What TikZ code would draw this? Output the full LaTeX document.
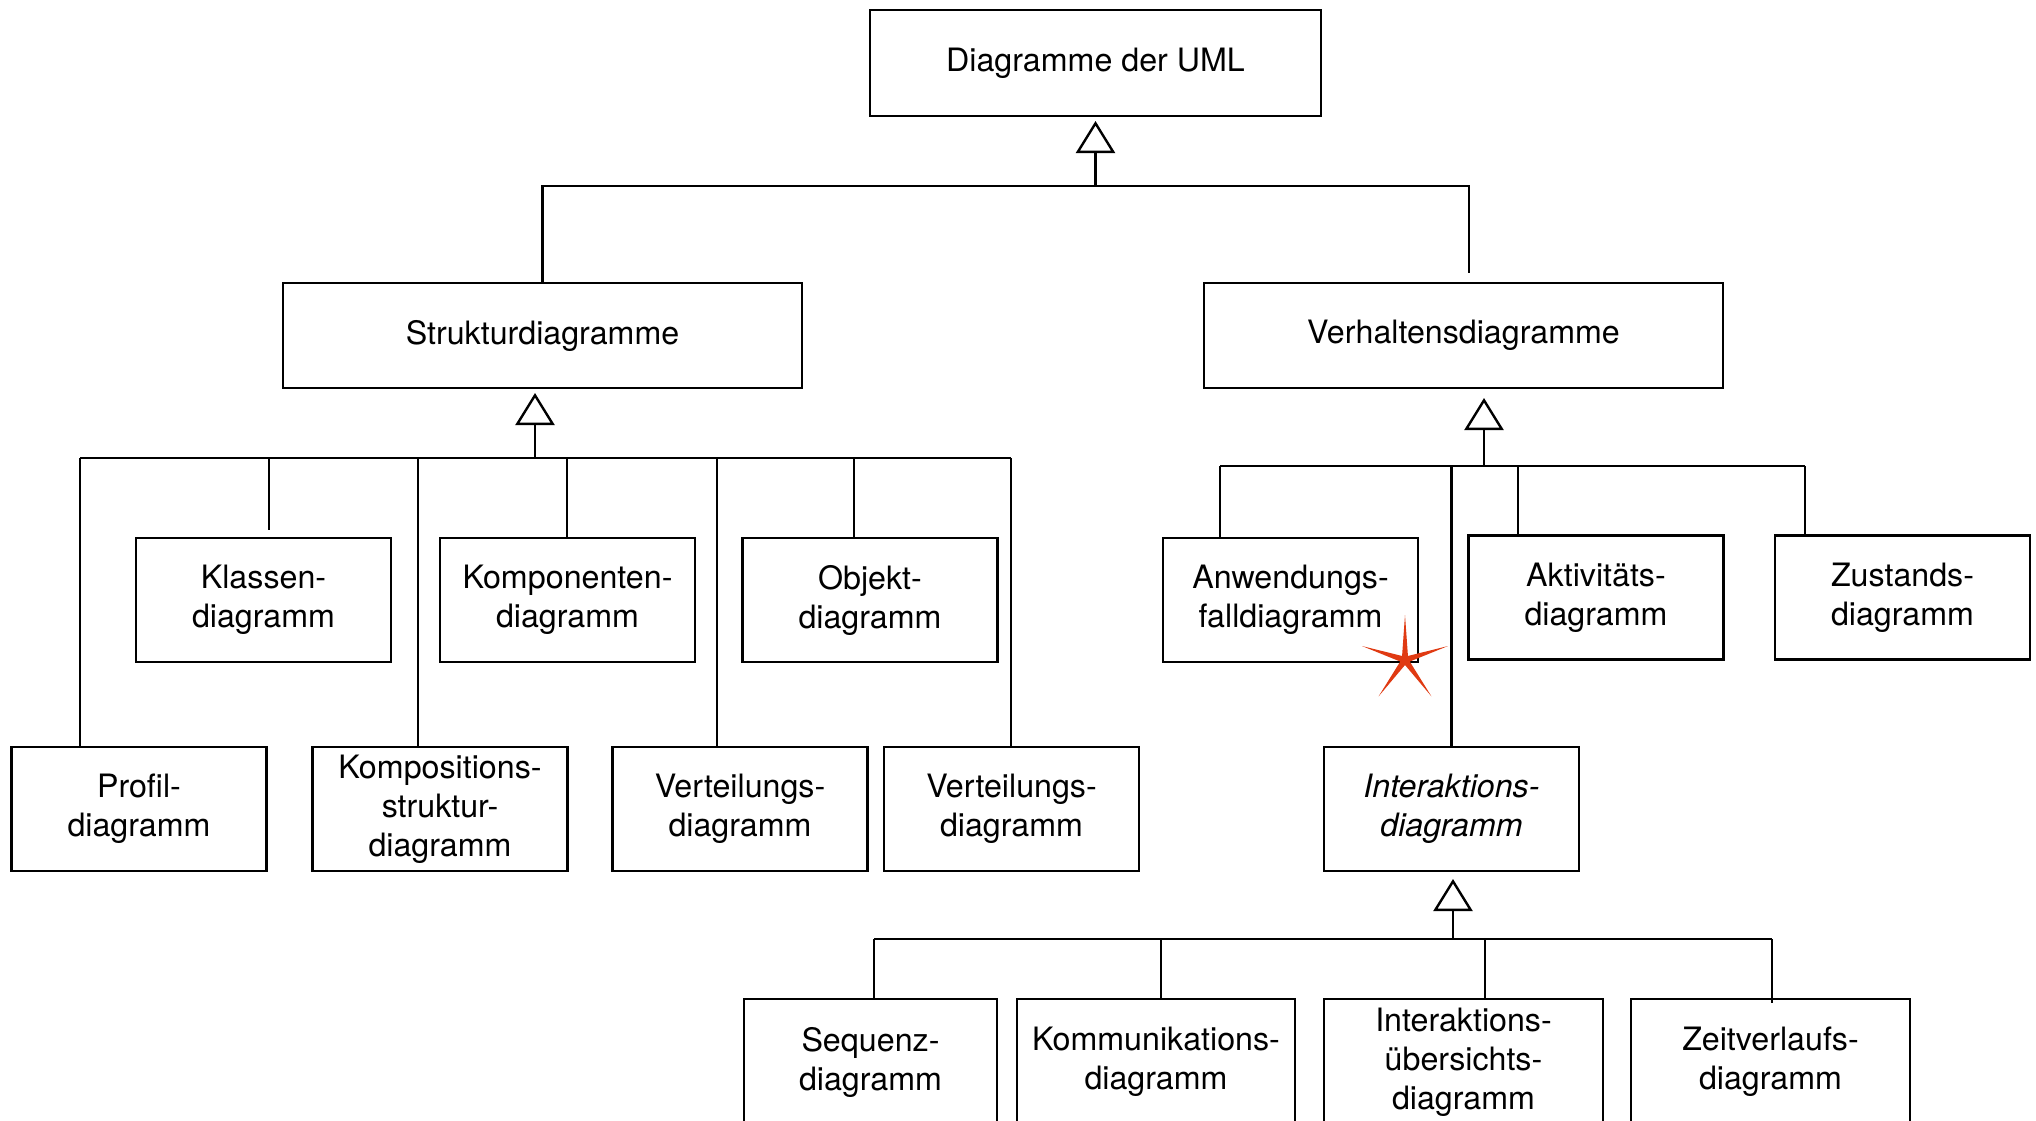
\documentclass[tikz,border=0pt]{standalone}
\usepackage{fontspec}
\setmainfont{TeX Gyre Heros}
\usetikzlibrary{arrows.meta,shapes.geometric}
\definecolor{starcol}{RGB}{224,58,18}
\begin{document}
\begin{tikzpicture}[x=0.5pt,y=-0.5pt,
  box/.style={draw,line width=1.4pt,inner sep=0pt,outer sep=0pt,align=center,
    font=\fontsize{16.1}{19.5}\selectfont,minimum width=127.5pt,minimum height=62pt},
  conn/.style={line width=1.2pt},
  gen/.style={line width=1.2pt,-{Triangle[open,length=16pt,width=19.5pt,line width=1.2pt]}}]
\clip (0,0) rectangle (2036,1120);
\fill[white] (0,0) rectangle (2036,1120);
% boxes
\node[box,minimum width=225.5pt,minimum height=53pt] (uml) at (1095.5,63) {Diagramme der UML};
\node[box,minimum width=259.5pt,minimum height=52.5pt] (struk) at (542.5,335.5) {Strukturdiagramme};
\node[box,minimum width=259.5pt,minimum height=52.5pt] (verh) at (1463.5,335.5) {Verhaltensdiagramme};
\node[box] (klassen) at (263.5,600) {Klassen-\\diagramm};
\node[box] (kompon) at (567.5,600) {Komponenten-\\diagramm};
\node[box] (objekt) at (870,600) {Objekt-\\diagramm};
\node[box] (anwend) at (1290.5,600) {Anwendungs-\\falldiagramm};
\node[box] (aktiv) at (1596,597.5) {Aktivitäts-\\diagramm};
\node[box] (zustand) at (1902.5,597.5) {Zustands-\\diagramm};
\node[box] (profil) at (139,809) {Profil-\\diagramm};
\node[box] (kompstr) at (440,809) {Kompositions-\\struktur-\\diagramm};
\node[box] (verteil1) at (740,809) {Verteilungs-\\diagramm};
\node[box] (verteil2) at (1011.5,809) {Verteilungs-\\diagramm};
\node[box,font=\fontsize{16.1}{19.5}\selectfont\itshape] (interakt) at (1451.5,809) {Interaktions-\\diagramm};
\node[box,minimum width=126.5pt,minimum height=63pt] (seq) at (870.5,1062) {Sequenz-\\diagramm};
\node[box,minimum width=139pt,minimum height=63pt] (komm) at (1156,1062) {Kommunikations-\\diagramm};
\node[box,minimum width=139.5pt,minimum height=63pt] (ueb) at (1463.5,1062) {Interaktions-\\übersichts-\\diagramm};
\node[box,minimum width=139.5pt,minimum height=63pt] (zeit) at (1770.5,1062) {Zeitverlaufs-\\diagramm};
% top level
\coordinate (t0) at (1095.5,186);
\coordinate (tL) at (542.5,186);
\coordinate (tR) at (1469,186);
\coordinate (tRe) at (1469,273);
\draw[gen,shorten >=2.5pt] (t0) -- (uml.south);
\draw[conn] (struk.north) -- (tL) -- (tR) -- (tRe);
% Struktur
\coordinate (s0) at (535,458);
\coordinate (sP) at (80,458);
\coordinate (sK) at (269,458);
\coordinate (sS) at (418,458);
\coordinate (sC) at (567,458);
\coordinate (sV) at (717,458);
\coordinate (sO) at (854,458);
\coordinate (sW) at (1011,458);
\draw[gen,shorten >=2.5pt] (s0) -- (s0 |- struk.south);
\draw[conn] (sP) -- (sW);
\draw[conn] (sP) -- (sP |- profil.north);
\draw[conn] (sK) -- ([yshift=4pt]sK |- klassen.north);
\draw[conn] (sS) -- (sS |- kompstr.north);
\draw[conn] (sC) -- (sC |- kompon.north);
\draw[conn] (sV) -- (sV |- verteil1.north);
\draw[conn] (sO) -- (sO |- objekt.north);
\draw[conn] (sW) -- (sW |- verteil2.north);
% Verhalten
\coordinate (v0) at (1484,466);
\coordinate (vA) at (1220,466);
\coordinate (vI) at (1451.5,466);
\coordinate (vK) at (1518,466);
\coordinate (vZ) at (1805,466);
\draw[gen,shorten >=5pt] (v0) -- (v0 |- verh.south);
\draw[conn] (vA) -- (vZ);
\draw[conn] (vA) -- (vA |- anwend.north);
\draw[conn] (vI) -- (interakt.north);
\draw[conn] (vK) -- (vK |- aktiv.north);
\draw[conn] (vZ) -- (vZ |- zustand.north);
% Interaktion
\coordinate (i0) at (1453,939);
\coordinate (iS) at (874,939);
\coordinate (iK) at (1161,939);
\coordinate (iU) at (1485,939);
\coordinate (iZ) at (1772,939);
\draw[gen,shorten >=4pt] (i0) -- (i0 |- interakt.south);
\draw[conn] (iS) -- (iZ);
\draw[conn] (iS) -- (iS |- seq.north);
\draw[conn] (iK) -- (iK |- komm.north);
\draw[conn] (iU) -- (iU |- ueb.north);
\draw[conn] (iZ) -- ([yshift=-2pt]iZ |- zeit.north);
% star
\node[star,star points=5,star point ratio=9,fill=starcol,draw=none,minimum size=45pt,inner sep=0pt] (star) at (1405,660) {};
\end{tikzpicture}
\end{document}
